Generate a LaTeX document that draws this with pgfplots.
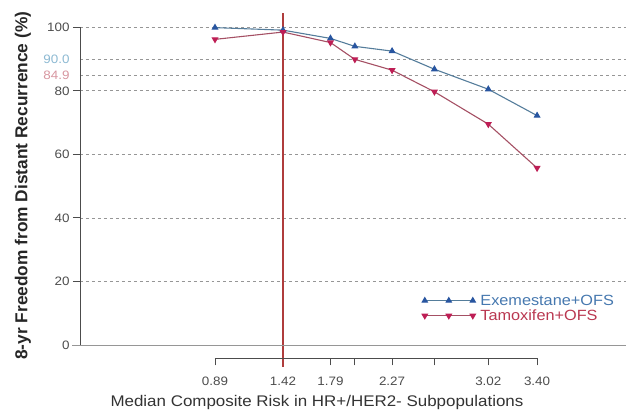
\documentclass[border=0pt]{standalone}
\usepackage{fontspec}
\setmainfont[FakeStretch=1.1]{Liberation Sans}
\newfontfamily\ylabfont{Liberation Sans}
\usepackage{pgfplots}
\pgfplotsset{compat=1.18}

\definecolor{exeline}{RGB}{85,125,155}
\definecolor{exemark}{RGB}{40,85,160}
\definecolor{exetext}{RGB}{70,120,175}
\definecolor{tamline}{RGB}{165,80,100}
\definecolor{tammark}{RGB}{190,30,85}
\definecolor{tamtext}{RGB}{185,55,80}
\definecolor{c90}{RGB}{140,185,210}
\definecolor{c849}{RGB}{215,150,160}
\definecolor{gridc}{RGB}{150,150,150}
\definecolor{refline}{RGB}{175,60,60}

\begin{document}
\begin{tikzpicture}
\begin{axis}[
    scale only axis, width=546bp, height=345.3bp,
    xmin=-0.162, xmax=4.093, ymin=-4.2, ymax=104.5,
    axis lines=left, axis line style={draw=none},
    clip=false,
    xtick={0.89,1.42,1.79,1.98,2.27,2.60,3.02,3.40},
    xticklabels={0.89,1.42,1.79,,2.27,,3.02,3.40},
    ytick={0,20,40,60,80,100},
    tick align=outside, major tick length=7bp,
    tick style={black!70, line width=0.8bp},
    ymajorgrids, grid style={gridc, dashed, line width=0.7bp},
    extra y ticks={90,84.9},
    extra y tick labels={\textcolor{c90}{90.0},\textcolor{c849}{84.9}},
    extra y tick style={grid=major, tick style={draw=none}},
    /pgf/number format/assume math mode=true,
    tick label style={font=\fontsize{12.2bp}{14bp}\selectfont, text=black!70},
    xticklabel style={yshift=-8bp},
    xlabel={Median Composite Risk in HR+/HER2- Subpopulations},
    xlabel style={at={(axis description cs:0.434,0)}, anchor=center, yshift=-44bp,
                  font=\fontsize{15.4bp}{18bp}\selectfont, text=black!80},
    ylabel={8-yr Freedom from Distant Recurrence (\%)},
    ylabel style={at={(axis description cs:-0.1044,0.5)}, anchor=center,
                  font=\ylabfont\bfseries\fontsize{17.3bp}{20bp}\selectfont, text=black!85},
    legend style={at={(axis cs:2.48,16.8)}, anchor=north west, draw=none, fill=none,
                  font=\fontsize{14.8bp}{16bp}\selectfont, row sep=1bp, column sep=4bp,
                  nodes={inner sep=1bp}},
    legend cell align=left,
    legend image code/.code={
        \draw[mark repeat=1,#1] plot coordinates {(0bp,0bp) (24bp,0bp) (48bp,0bp)};
    },
]
% reference line at 1.42
\addplot[refline, line width=1.3bp, forget plot] coordinates {(1.42,-6.8) (1.42,104.5)};

\addplot[exeline, line width=1.1bp, mark=triangle*, mark size=3bp,
         mark options={fill=exemark, draw=exemark, solid}] coordinates {
    (0.89,99.9) (1.42,99.1) (1.79,96.5) (1.98,94.0)
    (2.27,92.5) (2.60,86.8) (3.02,80.5) (3.40,72.2) };
\addlegendentry{\textcolor{exetext}{Exemestane+OFS}}

\addplot[tamline, line width=1.1bp, mark=triangle*, mark size=3bp,
         mark options={fill=tammark, draw=tammark, rotate=180, solid}] coordinates {
    (0.89,96.2) (1.42,98.5) (1.79,95.2) (1.98,89.9)
    (2.27,86.5) (2.60,79.7) (3.02,69.5) (3.40,55.7) };
\addlegendentry{\textcolor{tamtext}{Tamoxifen+OFS}}

% axis lines
\draw[gridc, line width=0.9bp] (axis cs:-0.224,0) -- (axis cs:4.093,0);
\draw[black!70, line width=0.8bp] (axis cs:-0.162,0) -- (axis cs:-0.162,100);
\draw[black!70, line width=0.8bp] (axis cs:0.89,-4.2) -- (axis cs:3.40,-4.2);
\end{axis}
\pgfresetboundingbox
\path (-80bp,-56.7bp) rectangle (546bp,358.3bp);
\end{tikzpicture}
\end{document}
